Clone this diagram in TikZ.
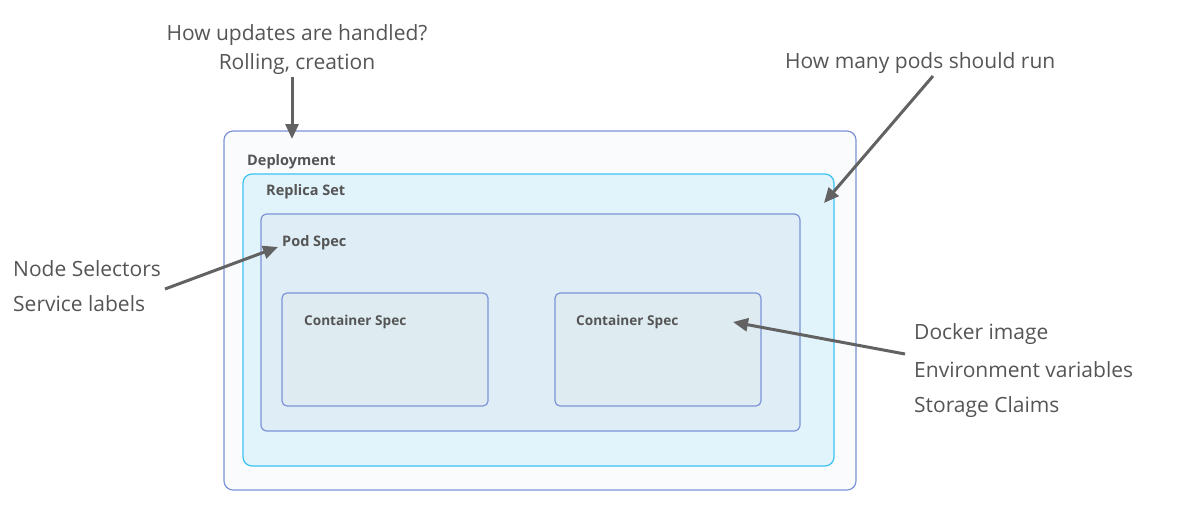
\documentclass[tikz,border=0pt]{standalone}
\usepackage{fontspec}
\setmainfont{Open Sans}
\usetikzlibrary{arrows.meta}
\definecolor{outerline}{HTML}{7C93D8}
\definecolor{outerfill}{HTML}{F9FBFD}
\definecolor{rsline}{HTML}{3CC3F0}
\definecolor{rsfill}{HTML}{E1F3FB}
\definecolor{podfill}{HTML}{DFEEF6}
\definecolor{contfill}{HTML}{DEEBF1}
\definecolor{txt}{HTML}{555555}
\definecolor{arr}{HTML}{626262}
\tikzset{
  box/.style={rounded corners=9pt, line width=1.2pt},
  lbl/.style={anchor=west, font=\fontsize{14.5pt}{17pt}\selectfont\bfseries, text=txt, inner sep=0pt},
  clbl/.style={lbl, font=\fontsize{13.6pt}{16pt}\selectfont\bfseries},
  note/.style={font=\fontsize{21pt}{24pt}\selectfont, text=txt, inner sep=0pt},
  pointer/.style={draw=arr, line width=3pt, -{Triangle[length=15pt,width=13pt]}, shorten >=0pt}
}
\begin{document}
\begin{tikzpicture}[x=1pt,y=-1pt]
\useasboundingbox (0,0) rectangle (1196,531);
\draw[box, draw=outerline, fill=outerfill] (224,131) rectangle (856,490);
\draw[box, draw=rsline, fill=rsfill] (243,174) rectangle (834,466);
\draw[box, draw=outerline, fill=podfill, rounded corners=6pt] (261,214) rectangle (800,431);
\draw[box, draw=outerline, fill=contfill, rounded corners=5pt] (282,293) rectangle (488,406);
\draw[box, draw=outerline, fill=contfill, rounded corners=5pt] (555,293) rectangle (761,406);
\node[lbl] (ldep) at (247,162) {Deployment};
\node[lbl] (lrs) at (266,192) {Replica Set};
\node[lbl] (lpod) at (282,243) {Pod Spec};
\node[clbl] (lc1) at (304,322) {Container Spec};
\node[clbl] (lc2) at (576,322) {Container Spec};
\node[note] (n1) at (297,35) {How updates are handled?};
\node[note] (n1b) at (297,64) {Rolling, creation};
\node[note, anchor=west] (n2) at (785,63) {How many pods should run};
\node[note, anchor=west] (n3) at (13,269) {Node Selectors};
\node[note, anchor=west] (n3b) at (13,304) {Service labels};
\node[note, anchor=west] (n4) at (914,334) {Docker image};
\node[note, anchor=west] (n4b) at (914,370) {Environment variables};
\node[note, anchor=west] (n4c) at (914,407) {Storage Claims};
\coordinate (a1s) at (292,77); \coordinate (a1e) at (292,139);
\coordinate (a2s) at (933,76); \coordinate (a2e) at (824,203);
\coordinate (a3s) at (165,289); \coordinate (a3e) at (278,247);
\coordinate (a4s) at (905,354); \coordinate (a4e) at (733,322);
\draw[pointer] (a1s) -- (a1e);
\draw[pointer] (a2s) -- (a2e);
\draw[pointer] (a3s) -- (a3e);
\draw[pointer] (a4s) -- (a4e);
\end{tikzpicture}
\end{document}
